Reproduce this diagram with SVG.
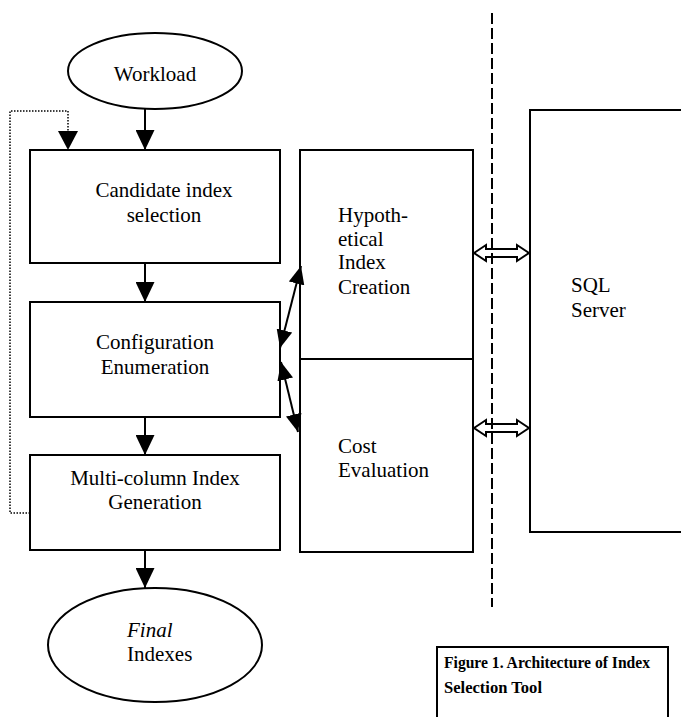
<svg xmlns="http://www.w3.org/2000/svg" width="681" height="717" viewBox="0 0 681 717">
<style>
.shape{fill:#fff;stroke:#000;stroke-width:2}
.t{font-family:"Liberation Serif","Times New Roman",serif;font-size:21px;fill:#000}
.c{text-anchor:middle}
.cap{font-family:"Liberation Serif","Times New Roman",serif;font-size:17px;font-weight:bold;fill:#000}
.ln{stroke:#000;stroke-width:2;fill:none}
.dot{stroke:#000;stroke-width:1.5;fill:none;stroke-dasharray:1.5 1.5}
.dash{stroke:#000;stroke-width:2;fill:none;stroke-dasharray:11 4}
.hollow{fill:#fff;stroke:#000;stroke-width:2;stroke-linejoin:miter}
</style>
<defs>
<marker id="ah" viewBox="0 0 20 19" refX="20" refY="9.5" markerWidth="20" markerHeight="19" markerUnits="userSpaceOnUse" orient="auto-start-reverse">
<path d="M0,0 L20,9.5 L0,19 Z" fill="#000"/>
</marker>
<marker id="ah2" viewBox="0 0 18 16" refX="18" refY="8" markerWidth="18" markerHeight="16" markerUnits="userSpaceOnUse" orient="auto-start-reverse">
<path d="M0,0 L18,8 L0,16 Z" fill="#000"/>
</marker>
</defs>

<g id="sql-server">
<rect class="shape" x="530" y="110" width="170" height="422"/>
<text class="t" x="571" y="292">SQL</text>
<text class="t" x="571" y="317">Server</text>
</g>

<g id="workload">
<ellipse class="shape" cx="155" cy="71" rx="87" ry="38"/>
<text class="t c" x="155" y="81">Workload</text>
</g>

<g id="candidate-selection">
<rect class="shape" x="30" y="150" width="250" height="113"/>
<text class="t c" x="164" y="197">Candidate index</text>
<text class="t c" x="164" y="222">selection</text>
</g>

<g id="configuration-enumeration">
<rect class="shape" x="30" y="302" width="250" height="115"/>
<text class="t c" x="155" y="349">Configuration</text>
<text class="t c" x="155" y="374">Enumeration</text>
</g>

<g id="multicolumn-generation">
<rect class="shape" x="30" y="455" width="250" height="95"/>
<text class="t c" x="155" y="485">Multi-column Index</text>
<text class="t c" x="155" y="509">Generation</text>
</g>

<g id="final-indexes">
<ellipse class="shape" cx="155" cy="645" rx="107" ry="57"/>
<text class="t" x="127" y="637" font-style="italic">Final</text>
<text class="t" x="127" y="661">Indexes</text>
</g>

<g id="hypothetical-index-creation">
<rect class="shape" x="300" y="150" width="173" height="209"/>
<text class="t" x="338" y="222">Hypoth-</text>
<text class="t" x="338" y="246">etical</text>
<text class="t" x="338" y="269">Index</text>
<text class="t" x="338" y="294">Creation</text>
</g>

<g id="cost-evaluation">
<rect class="shape" x="300" y="359" width="173" height="193"/>
<text class="t" x="338" y="453">Cost</text>
<text class="t" x="338" y="477">Evaluation</text>
</g>

<g id="caption">
<path class="ln" d="M437,717 L437,647 L668,647 L668,717"/>
<text class="cap" x="444" y="668" textLength="206" lengthAdjust="spacingAndGlyphs">Figure 1. Architecture of Index</text>
<text class="cap" x="444" y="693" textLength="98" lengthAdjust="spacingAndGlyphs">Selection Tool</text>
</g>

<g id="connectors">
<line class="ln" x1="145" y1="109" x2="145" y2="150" marker-end="url(#ah)"/>
<line class="ln" x1="145" y1="263" x2="145" y2="302" marker-end="url(#ah)"/>
<line class="ln" x1="145" y1="417" x2="145" y2="455" marker-end="url(#ah)"/>
<line class="ln" x1="145" y1="550" x2="145" y2="588" marker-end="url(#ah)"/>
<path class="dot" d="M30,513 L10,513 L10,111 L68,111 L68,132"/>
<path d="M58,131 L78,131 L68,150 Z" fill="#000"/>
<line class="ln" x1="280" y1="348" x2="301" y2="266" marker-start="url(#ah2)" marker-end="url(#ah2)"/>
<line class="ln" x1="281" y1="362" x2="298" y2="432" marker-start="url(#ah2)" marker-end="url(#ah2)"/>
<path class="hollow" d="M474,253 L486,245 L486,249 L517,249 L517,245 L529,253 L517,261 L517,257 L486,257 L486,261 Z"/>
<path class="hollow" d="M474,428 L486,420 L486,424 L517,424 L517,420 L529,428 L517,436 L517,432 L486,432 L486,436 Z"/>
<line class="dash" x1="492" y1="13" x2="492" y2="607"/>
</g>
</svg>
